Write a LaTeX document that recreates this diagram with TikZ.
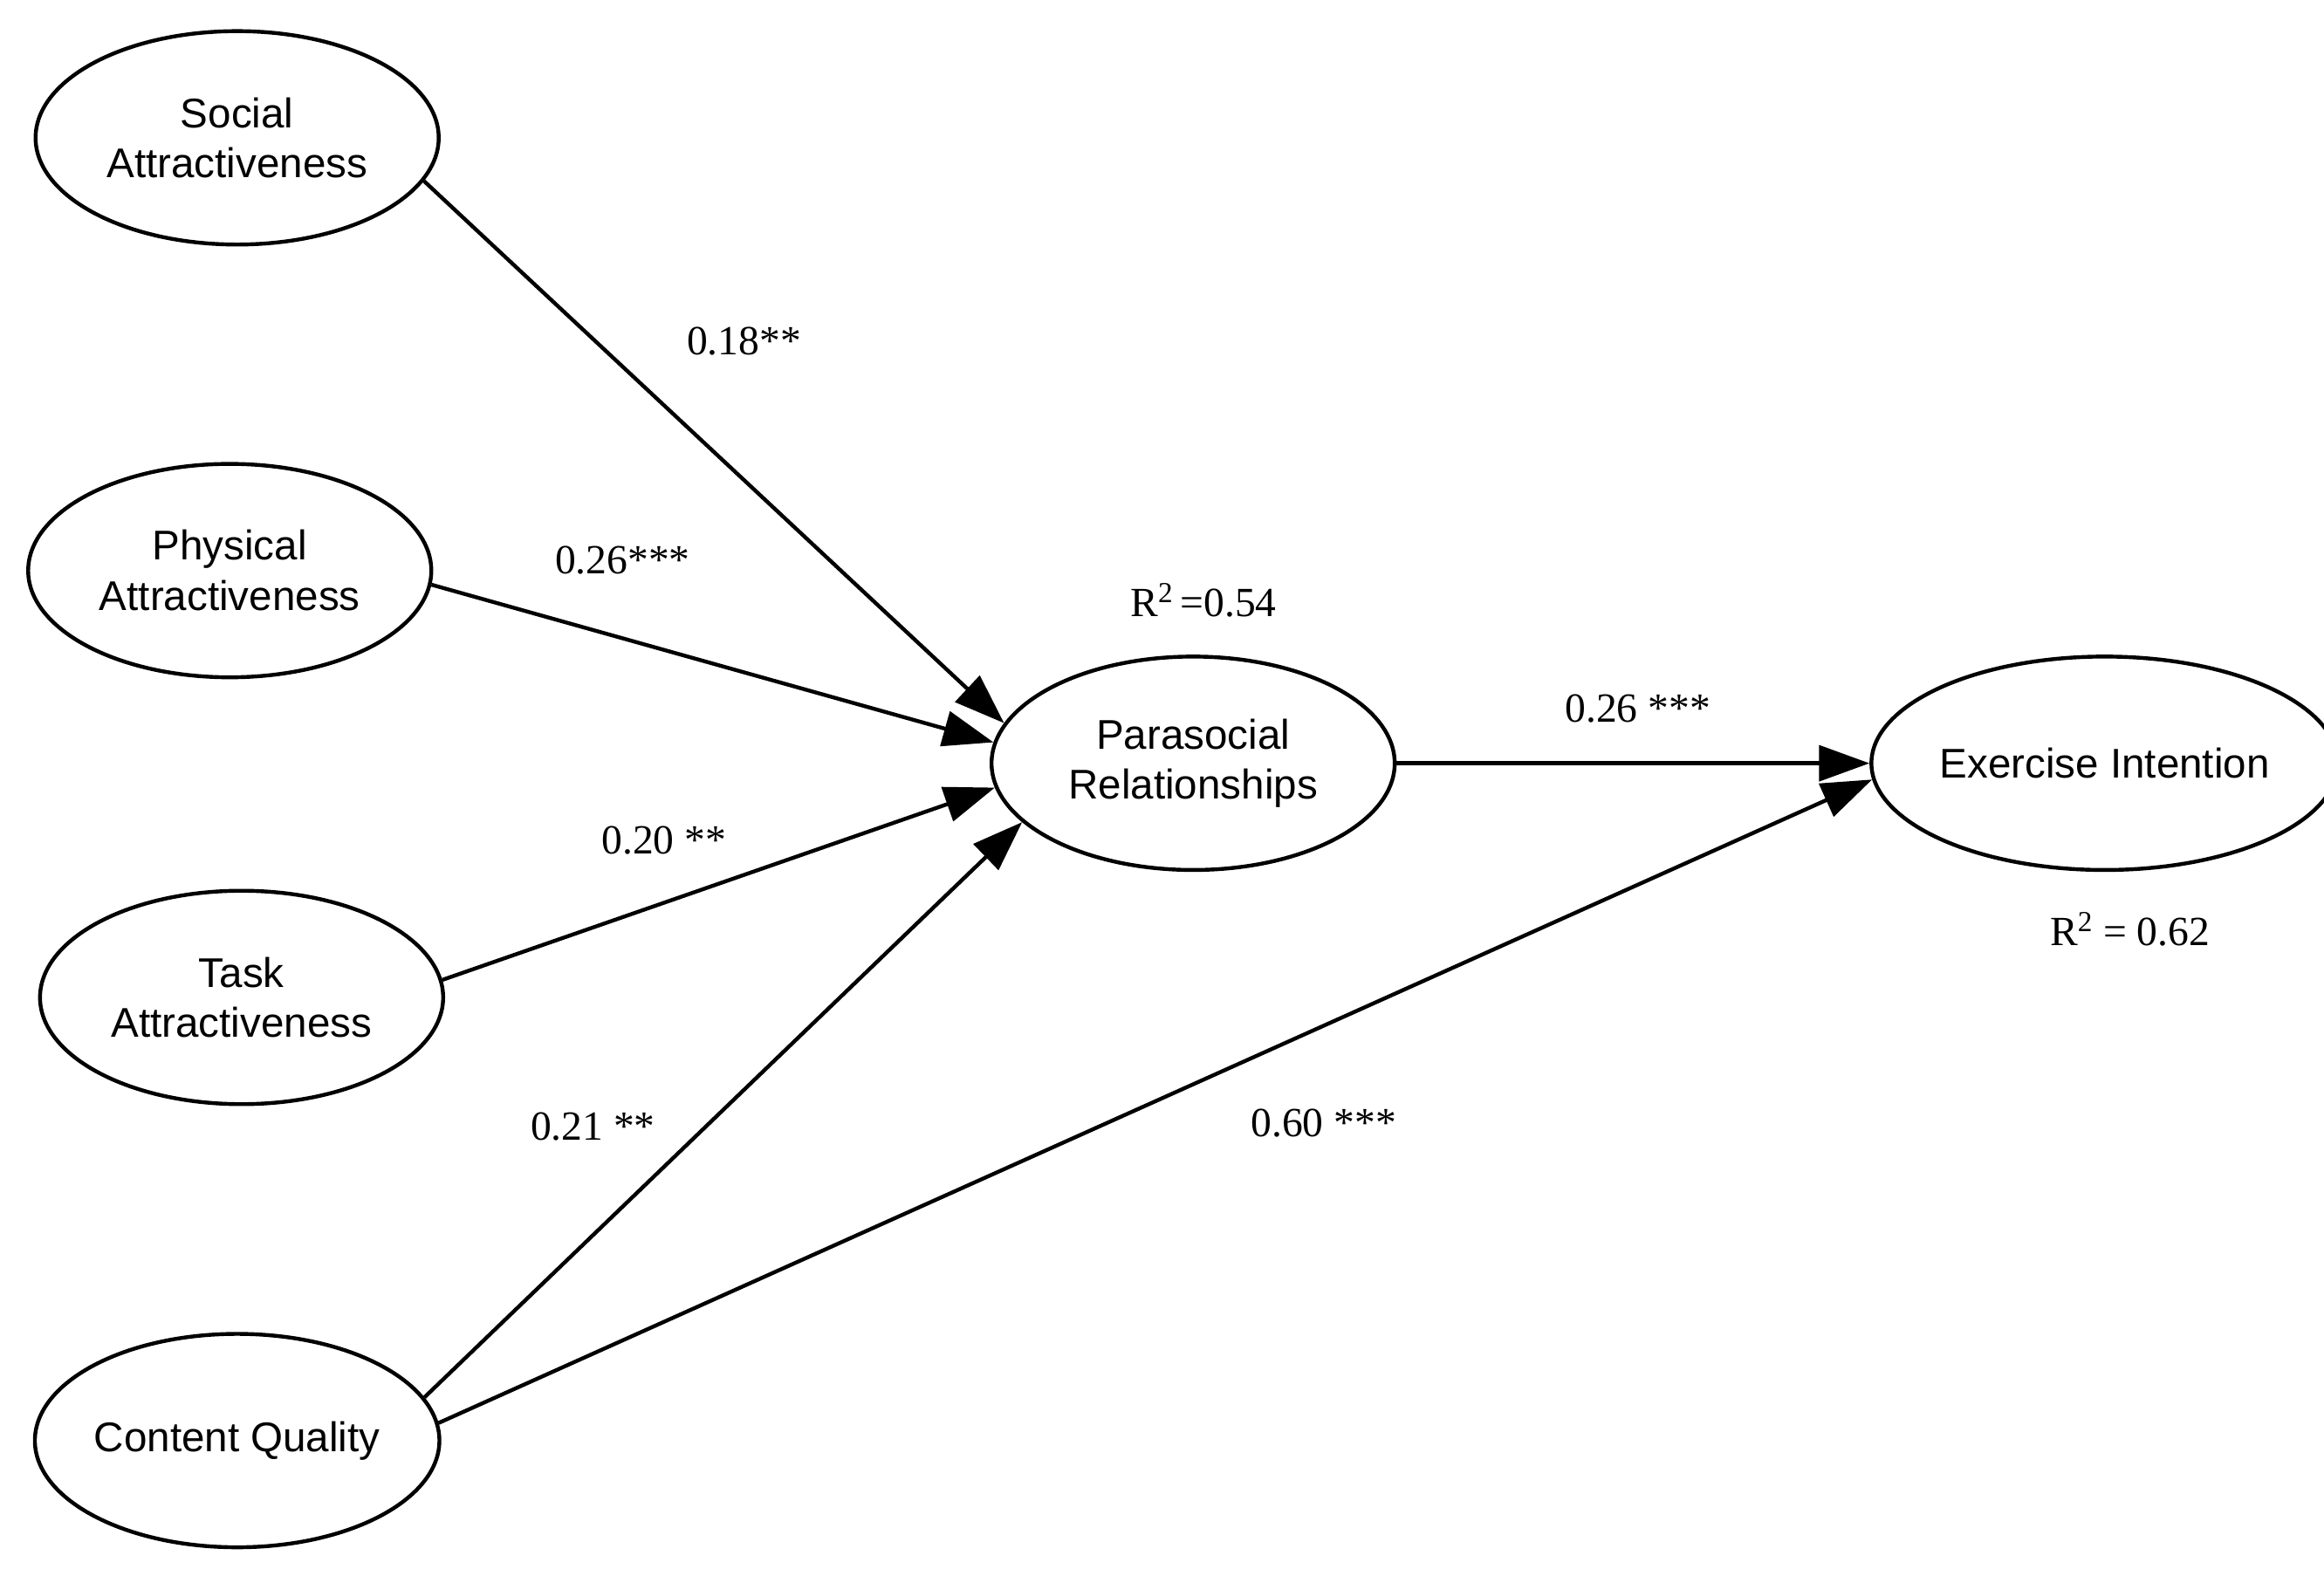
\documentclass[tikz,border=0pt]{standalone}
\usepackage{fontspec}
\setmainfont{Liberation Serif}
\newfontfamily\arialf{Liberation Sans}
\usetikzlibrary{shapes.geometric,arrows.meta}
\begin{document}
\begin{tikzpicture}[x=1pt,y=-1pt,
  lat/.style={ellipse,draw,line width=2.6pt,minimum width=272pt,minimum height=144pt,inner sep=0pt,font=\arialf\fontsize{28}{34}\selectfont,align=center},
  pth/.style={line width=2.6pt,-{Triangle[length=34pt,width=24pt]}},
  lbl/.style={font=\fontsize{28}{34}\selectfont}]
\useasboundingbox (0,0) rectangle (1568,1068);
\node[lat] (soc) at (160,93) {Social\\Attractiveness};
\node[lat] (phy) at (155,385) {Physical\\Attractiveness};
\node[lat] (task) at (163,673) {Task\\Attractiveness};
\node[lat] (cq) at (160,972) {Content Quality};
\node[lat] (par) at (805,515) {Parasocial\\Relationships};
\node[lat] (ex) at (1420,515) {Exercise Intention};
\draw[pth] (soc.-13) -- (par.168);
\draw[pth] (phy.-4) -- (par.174);
\draw[pth] (task.5) -- (par.187);
\draw[pth] (cq.13) -- (par.199);
\draw[pth] (cq.5) -- (ex.184);
\draw[pth] (par.east) -- (ex.west);
\node[lbl] (l1) at (502,230) {0.18**};
\node[lbl] (l2) at (420,378) {0.26***};
\node[lbl] (l3) at (448,567) {0.20 **};
\node[lbl] (l4) at (400,760) {0.21 **};
\node[lbl] (l5) at (893,758) {0.60 ***};
\node[lbl] (l6) at (1105,478) {0.26 ***};
\node[lbl] (r1) at (812,405) {R\textsuperscript{2}\,=0.54};
\node[lbl] (r2) at (1437,627) {R\textsuperscript{2} = 0.62};
\end{tikzpicture}
\end{document}
